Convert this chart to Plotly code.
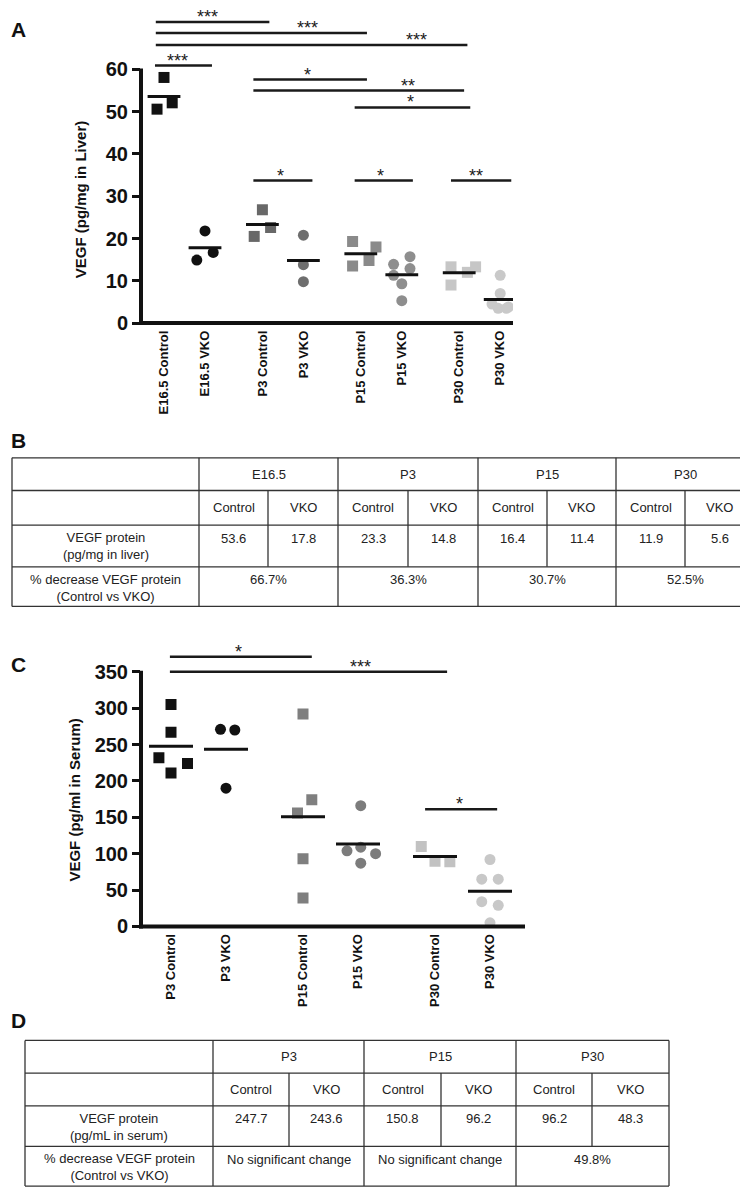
import plotly.graph_objects as go
import numpy as np

W, H = 748, 1192
FONT = "Liberation Sans, Arial, Helvetica, sans-serif"

# ---------------- Panel A data: VEGF in liver (pg/mg) ----------------
liver_labels = ["E16.5 Control", "E16.5 VKO", "P3 Control", "P3 VKO",
                "P15 Control", "P15 VKO", "P30 Control", "P30 VKO"]
liver_e165_ctrl = [58.1, 50.6, 52.1]
liver_e165_vko = [21.8, 14.9, 16.7]
liver_p3_ctrl = [26.8, 20.5, 22.6]
liver_p3_vko = [20.8, 13.8, 9.8]
liver_p15_ctrl = [19.3, 13.5, 14.8, 18.0]
liver_p15_vko = [13.9, 15.7, 11.3, 12.9, 9.3, 5.3]
liver_p30_ctrl = [13.3, 9.0, 12.0, 13.3]
liver_p30_vko = [11.3, 7.0, 4.5, 3.8, 3.5, 3.5]
liver_ticks = [0, 10, 20, 30, 40, 50, 60]

# significance comparisons (group index from, to, y level, label)
liver_sig_from = [0, 0, 0, 0, 2, 2, 4, 2, 4, 6]
liver_sig_to = [2, 4, 6, 1, 4, 6, 6, 3, 5, 7]
liver_sig_y = [71.2, 68.6, 65.8, 60.9, 57.6, 55.0, 51.0, 33.7, 33.7, 33.7]
liver_sig_text = ["***", "***", "***", "***", "*", "**", "*", "*", "*", "**"]

# ---------------- Panel C data: VEGF in serum (pg/ml) ----------------
serum_labels = ["P3 Control", "P3 VKO", "P15 Control", "P15 VKO",
                "P30 Control", "P30 VKO"]
serum_p3_ctrl = [305, 267, 232, 224, 211]
serum_p3_vko = [271, 270, 190]
serum_p15_ctrl = [292, 174, 156, 93, 39]
serum_p15_vko = [166, 104, 109, 100, 87]
serum_p30_ctrl = [110, 89.5, 89]
serum_p30_vko = [92, 65, 65, 34, 29, 5]
serum_ticks = [0, 50, 100, 150, 200, 250, 300, 350]

serum_sig_from = [0, 0, 4]
serum_sig_to = [2, 4, 5]
serum_sig_y = [370.6, 350.0, 161.0]
serum_sig_text = ["*", "***", "*"]

# ---------------- Panel B table ----------------
tabB_groups = ["E16.5", "P3", "P15", "P30"]
tabB_sub = ["Control", "VKO"]
tabB_values = ["53.6", "17.8", "23.3", "14.8", "16.4", "11.4", "11.9", "5.6"]
tabB_pct = ["66.7%", "36.3%", "30.7%", "52.5%"]
tabB_row1 = ["VEGF protein", "(pg/mg in liver)"]
tabB_row2 = ["% decrease VEGF protein", "(Control vs VKO)"]

# ---------------- Panel D table ----------------
tabD_groups = ["P3", "P15", "P30"]
tabD_sub = ["Control", "VKO"]
tabD_values = ["247.7", "243.6", "150.8", "96.2", "96.2", "48.3"]
tabD_pct = ["No significant change", "No significant change", "49.8%"]
tabD_row1 = ["VEGF protein", "(pg/mL in serum)"]
tabD_row2 = ["% decrease VEGF protein", "(Control vs VKO)"]

# =====================================================================


def pxx(p):
    return p / W


def pxy(p):
    return 1 - p / H


fig = go.Figure()

liver_groups = [liver_e165_ctrl, liver_e165_vko, liver_p3_ctrl, liver_p3_vko,
                liver_p15_ctrl, liver_p15_vko, liver_p30_ctrl, liver_p30_vko]
serum_groups = [serum_p3_ctrl, serum_p3_vko, serum_p15_ctrl, serum_p15_vko,
                serum_p30_ctrl, serum_p30_vko]

# layout-only helpers (horizontal scatter of points within a column)
liver_jitter = [[0, -0.17, 0.2], [0, -0.2, 0.2], [0, -0.2, 0.2], [0, 0, 0],
                [-0.2, -0.2, 0.2, 0.37], [-0.2, 0.2, -0.2, 0.2, 0, 0],
                [-0.2, -0.2, 0.2, 0.4], [0, 0, -0.2, 0.2, -0.05, 0.15]]
serum_jitter = [[0, 0, -0.22, 0.3, 0], [-0.1, 0.16, 0], [0, 0.16, -0.1, 0, 0],
                [0.05, -0.2, 0.05, 0.32, 0.05], [-0.25, 0, 0.27],
                [0, -0.15, 0.15, -0.15, 0.15, 0]]
liver_colors = ["#111111", "#111111", "#686868", "#6e6e6e",
                "#8a8a8a", "#8e8e8e", "#c6c6c6", "#c9c9c9"]
serum_colors = ["#111111", "#111111", "#7f7f7f", "#7c7c7c",
                "#c2c2c2", "#c8c8c8"]


def positions(n):
    return [(i // 2) * 2.4 + (i % 2) for i in range(n)]


def add_panel(groups, colors, jitter, xa, ya, sig_from, sig_to, sig_y, sig_text,
              star_x, start_off, end_off):
    pos = positions(len(groups))
    for i, vals in enumerate(groups):
        sym = "square" if i % 2 == 0 else "circle"
        fig.add_trace(go.Scatter(
            x=[pos[i] + j for j in jitter[i]], y=vals, mode="markers",
            marker=dict(symbol=sym, size=11, color=colors[i], line=dict(width=0)),
            xaxis=xa, yaxis=ya, showlegend=False, hoverinfo="y"))
        m = float(np.mean(vals))
        fig.add_trace(go.Scatter(
            x=[pos[i] - 0.4, pos[i] + 0.4], y=[m, m], mode="lines",
            line=dict(color="#111111", width=3), xaxis=xa, yaxis=ya,
            showlegend=False, hoverinfo="skip"))
    for k in range(len(sig_from)):
        x0 = pos[sig_from[k]] + start_off[k]
        x1 = pos[sig_to[k]] + end_off[k]
        fig.add_trace(go.Scatter(
            x=[x0, x1], y=[sig_y[k], sig_y[k]], mode="lines",
            line=dict(color="#1a1a1a", width=2.5), xaxis=xa, yaxis=ya,
            showlegend=False, hoverinfo="skip"))
        fig.add_annotation(x=star_x[k], y=sig_y[k], xref=xa, yref=ya,
                           text=sig_text[k], showarrow=False, yanchor="bottom",
                           yshift=-6, borderpad=0,
                           font=dict(family=FONT, size=18, color="#1a1a1a"))
    return pos


liver_star_x = [1.07, 3.51, 6.15, 0.34, 3.51, 5.95, 6.0, 2.85, 5.29, 7.6]
liver_start = [-0.2, -0.2, -0.2, -0.22, -0.22, -0.22, -0.15, -0.22, -0.15, -0.2]
liver_end = [0.17, 0.15, 0.2, 0.17, 0.15, 0.12, 0.27, 0.22, 0.27, 0.27]
posA = add_panel(liver_groups, liver_colors, liver_jitter, "x", "y",
                 liver_sig_from, liver_sig_to, liver_sig_y, liver_sig_text,
                 liver_star_x, liver_start, liver_end)

serum_star_x = [1.22, 3.45, 5.24]
serum_start = [-0.02, -0.02, -0.18]
serum_end = [0.16, 0.22, 0.13]
posC = add_panel(serum_groups, serum_colors, serum_jitter, "x2", "y2",
                 serum_sig_from, serum_sig_to, serum_sig_y, serum_sig_text,
                 serum_star_x, serum_start, serum_end)

# ---------------- axes geometry (pixels) ----------------
A_left, A_right, A_cat0, A_unit = 133, 505, 156, 41.0
A_bottom, A_top, A_scale = 318, 0, 256 / 60
C_left, C_right, C_cat0, C_unit = 133, 517, 163, 55.0
C_bottom, C_top, C_scale = 927, 640, 257 / 350

tickfont = dict(family=FONT, size=20, color="#111111", weight="bold")
xtickfont = dict(family=FONT, size=13, color="#111111", weight="bold")

fig.update_layout(
    width=W, height=H, margin=dict(l=0, r=0, t=0, b=0),
    paper_bgcolor="white", plot_bgcolor="white", showlegend=False,
    xaxis=dict(domain=[pxx(A_left), pxx(A_right)],
               range=[(A_left - A_cat0) / A_unit, (A_right - A_cat0) / A_unit],
               tickvals=posA, ticktext=liver_labels, tickangle=-90,
               showgrid=False, zeroline=False, showline=False, ticks="",
               tickfont=xtickfont, anchor="y", ticklabelstandoff=4),
    yaxis=dict(domain=[pxy(A_bottom), pxy(A_top)],
               range=[0, (A_bottom - A_top) / A_scale], tickvals=liver_ticks,
               showgrid=False, zeroline=False, showline=False, ticks="outside",
               ticklen=8, tickwidth=3, tickcolor="#111111", tickfont=tickfont,
               anchor="x"),
    xaxis2=dict(domain=[pxx(C_left), pxx(C_right)],
                range=[(C_left - C_cat0) / C_unit, (C_right - C_cat0) / C_unit],
                tickvals=posC, ticktext=serum_labels, tickangle=-90,
                showgrid=False, zeroline=False, showline=False, ticks="",
                tickfont=xtickfont, anchor="y2", ticklabelstandoff=4),
    yaxis2=dict(domain=[pxy(C_bottom), pxy(C_top)],
                range=[0, (C_bottom - C_top) / C_scale], tickvals=serum_ticks,
                showgrid=False, zeroline=False, showline=False, ticks="outside",
                ticklen=8, tickwidth=3, tickcolor="#111111", tickfont=tickfont,
                anchor="x2"),
)

shapes = []


def pline(x0, y0, x1, y1, w=4, c="#111111"):
    shapes.append(dict(type="line", xref="paper", yref="paper",
                       x0=pxx(x0), y0=pxy(y0), x1=pxx(x1), y1=pxy(y1),
                       line=dict(color=c, width=w), layer="above"))


# axis lines
pline(A_left, A_bottom + 2, A_left, A_bottom - 60 * A_scale - 1)
pline(A_left - 2, A_bottom, A_right, A_bottom)
pline(C_left, C_bottom + 2, C_left, C_bottom - 350 * C_scale - 1)
pline(C_left - 2, C_bottom, C_right, C_bottom)

ann = []


def ptext(x, y, text, size=13, bold=False, angle=0, color="#222222"):
    ann.append(dict(x=pxx(x), y=pxy(y), xref="paper", yref="paper", text=text,
                    showarrow=False, textangle=angle, xanchor="center", yanchor="middle",
                    borderpad=0,
                    font=dict(family=FONT, size=size, color=color,
                              weight="bold" if bold else "normal")))


# panel letters
ptext(10, 22, "A", size=21, bold=True, color="#111111")
ptext(10, 437, "B", size=21, bold=True, color="#111111")
ptext(10, 663, "C", size=21, bold=True, color="#111111")
ptext(10, 1022, "D", size=21, bold=True, color="#111111")

# axis titles
ptext(72, 193, "VEGF (pg/mg in Liver)", size=15, bold=True, angle=-90, color="#111111")
ptext(67, 800, "VEGF (pg/ml in Serum)", size=15, bold=True, angle=-90, color="#111111")


def ttext(x, y, text):
    ptext(x, y, text, size=13, color="#222222")


def table(xs, ys, groups, sub, values, pct, row1, row2):
    # xs: [left, label/group border, sub-divider, group border, ..., right]
    lw, lc = 1.3, "#333333"
    left, right = xs[0], xs[-1]
    for y in ys:
        pline(left, y, right, y, w=lw, c=lc)
    for k, x in enumerate(xs):
        if k >= 2 and k % 2 == 0:  # sub-dividers
            pline(x, ys[1], x, ys[3], w=lw, c=lc)
        else:
            pline(x, ys[0], x, ys[-1], w=lw, c=lc)
    lab_c = (xs[0] + xs[1]) / 2
    hc = (ys[0] + ys[1]) / 2
    sc = (ys[1] + ys[2]) / 2
    ttext(lab_c, ys[2] + 21, "<br>".join(row1))
    ttext(lab_c, ys[3] + 21, "<br>".join(row2))
    for g, name in enumerate(groups):
        gx0, gx1 = xs[1 + 2 * g], xs[3 + 2 * g]
        ttext((gx0 + gx1) / 2, hc, name)
        ttext((gx0 + gx1) / 2, ys[3] + 13, pct[g])
        for s in range(2):
            cx = (xs[1 + 2 * g + s] + xs[2 + 2 * g + s]) / 2
            ttext(cx, sc, sub[s])
            ttext(cx, ys[2] + 13, values[2 * g + s])


table([4, 191, 260, 330, 400, 470, 539, 608, 677, 746.5],
      [454, 487, 522, 564, 604], tabB_groups, tabB_sub, tabB_values, tabB_pct,
      tabB_row1, tabB_row2)
table([17, 205, 281, 356, 433, 508, 584, 661],
      [1042, 1075, 1108, 1149, 1189], tabD_groups, tabD_sub, tabD_values, tabD_pct,
      tabD_row1, tabD_row2)

fig.update_layout(shapes=shapes, annotations=list(fig.layout.annotations) + ann)
fig.write_html("out.html")
